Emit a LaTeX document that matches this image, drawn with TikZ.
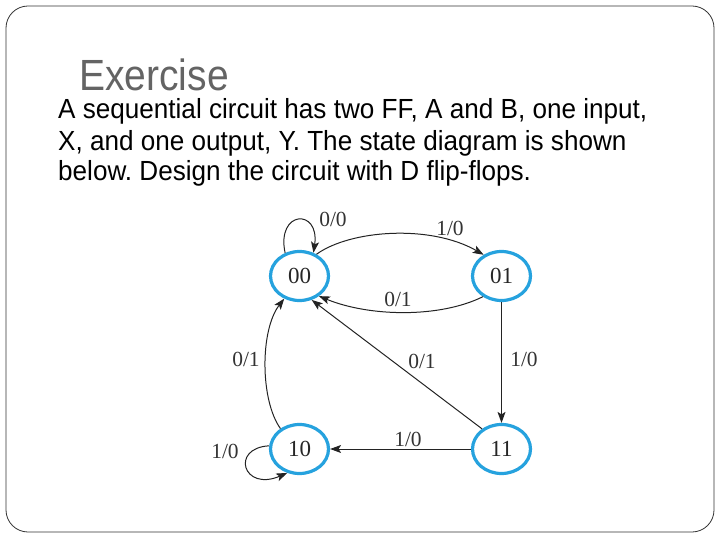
\documentclass[tikz,border=0pt]{standalone}
\usepackage{fontspec}
\setmainfont{Liberation Serif}
\newfontfamily\slidefont{Liberation Sans}
\usetikzlibrary{arrows.meta,shapes.geometric}
\definecolor{stateblue}{RGB}{38,162,222}
\definecolor{titlegray}{RGB}{100,100,100}
\definecolor{edgegray}{RGB}{35,35,35}
\frenchspacing
\tikzset{
  state/.style={ellipse,draw=stateblue,line width=3.2pt,minimum width=58pt,minimum height=49pt,inner sep=0pt,font=\fontsize{23}{23}\selectfont,text=black!85},
  trans/.style={draw=edgegray,line width=1pt,-{Stealth[length=11pt,width=8pt,inset=2.5pt]}},
  lab/.style={font=\fontsize{21.5}{21.5}\selectfont,text=black!80,inner sep=0pt},
  bodyline/.style={anchor=base west,inner sep=0pt,font=\slidefont\fontsize{26.1}{26.1}\selectfont}
}
\begin{document}
\begin{tikzpicture}[x=1pt,y=-1pt]
\useasboundingbox (0,0) rectangle (720,540);
\draw[black!80,line width=0.8pt,rounded corners=22pt] (6,6) rectangle (714,532);
\node[anchor=base west,inner sep=0pt,text=titlegray,font=\slidefont\fontsize{39}{39}\selectfont] (title) at (79,90.5) {\scalebox{1}[1.12]{Exercise}};
\node[bodyline] (l1) at (58,118.5) {\scalebox{1}[1.06]{A sequential circuit has two FF, A and B, one input,}};
\node[bodyline] (l2) at (58,151) {\scalebox{1}[1.06]{X, and one output, Y. The state diagram is shown}};
\node[bodyline] (l3) at (58,181) {\scalebox{1}[1.06]{below. Design the circuit with D flip-flops.}};

\node[state] (s00) at (299.5,276) {00};
\node[state] (s01) at (501.5,276) {01};
\node[state] (s10) at (299.5,449) {10};
\node[state] (s11) at (501.5,449) {11};

% self loop 00
\draw[trans] (s00.122) .. controls (276,210) and (320,208) .. (s00.59);
\node[lab] (l00) at (333,219) {0/0};
% 00 -> 01
\draw[trans] (s00.52) .. controls (350,230) and (430,224) .. (s01.130);
\node[lab] (l0001) at (450,228) {1/0};
% 01 -> 00
\draw[trans] (s01.228) .. controls (440,318) and (370,317) .. (s00.-46);
\node[lab] (l0100) at (398,299) {0/1};
% 01 -> 11
\draw[trans] (s01) -- (s11);
\node[lab] (l0111) at (524,359) {1/0};
% 11 -> 00
\draw[trans] (s11.134) -- (s00.-63);
\node[lab] (l1100) at (422,361) {0/1};
% 11 -> 10
\draw[trans] (s11.180) -- (s10.0);
\node[lab] (l1110) at (408,439) {1/0};
% 10 -> 00
\draw[trans] (s10.133) .. controls (260,400) and (260,330) .. (s00.-124);
\node[lab] (l1000) at (246,359) {0/1};
% self loop 10
\draw[trans] (s10.174) .. controls (230,448) and (243,492) .. (s10.-117);
\node[lab] (l10) at (225,451) {1/0};
\end{tikzpicture}
\end{document}
